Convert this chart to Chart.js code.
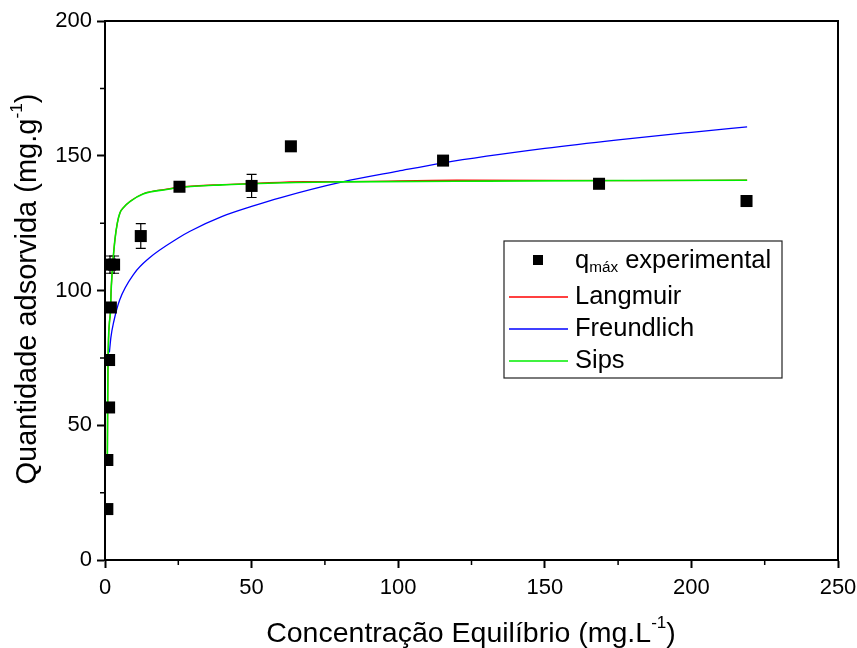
<!DOCTYPE html>
<html>
<head>
<meta charset="utf-8">
<script src="https://cdn.jsdelivr.net/npm/chart.js@4/dist/chart.umd.min.js"></script>
<style>
  html, body { margin: 0; padding: 0; background: #fff; }
</style>
</head>
<body>
<canvas id="isoChart" width="857" height="648"></canvas>
<script>
// --------------------
// Data
// --------------------
const expC   = [0.8, 0.8, 1.4, 1.4, 2.0, 1.7, 3.1, 12.2, 25.4, 50.0, 63.4, 115.3, 168.5, 218.8];
const expQ   = [18.9, 37.1, 56.6, 74.2, 93.7, 109.6, 109.6, 120.2, 138.5, 138.8, 153.5, 148.2, 139.6, 133.2];
const expErr = [0, 0, 0, 0, 0, 3.2, 3.2, 4.6, 0, 4.3, 0, 0, 0, 0];

const langC = [0.8, 0.9, 1.0, 1.2, 1.5, 1.9, 2.05, 2.4, 2.8, 3.4, 4.2, 5.1, 6.5, 8.5, 13, 21, 26, 40, 50, 68, 80, 120, 180, 219];
const langQ = [38, 55, 70, 82, 88, 93, 99, 106, 112, 119, 125, 128.8, 131, 133, 135.9, 137.6, 138.4, 139.3, 139.7, 140.4, 140.4, 140.9, 140.8, 140.9];

const freuC = [1.5, 2, 3, 5, 10, 15, 25, 29, 40, 50, 60, 81, 100, 115, 150, 175, 200, 219];
const freuQ = [77, 82.5, 88.5, 96.5, 106.4, 112, 119.5, 122, 127.5, 131.2, 134.5, 140.3, 144.3, 147.3, 152.7, 155.9, 158.7, 160.7];

const sipsC = [0.8, 0.9, 1.0, 1.2, 1.5, 1.9, 2.05, 2.4, 2.8, 3.4, 4.2, 5.1, 6.5, 8.5, 13, 21, 26, 40, 50, 65, 80, 130, 180, 219];
const sipsQ = [38, 55, 70, 82, 88, 93, 99, 106, 112, 119, 125, 128.8, 131, 133, 135.8, 137.5, 138.3, 139.2, 139.6, 140.1, 140.3, 140.6, 140.8, 140.9];

const xTicks = [0, 50, 100, 150, 200, 250];
const yTicks = [0, 50, 100, 150, 200];

const pts = (xs, ys) => xs.map((x, i) => ({ x: x, y: ys[i] }));

const FONT = '"Liberation Sans", Arial, sans-serif';

// draw text pieces with sub/superscripts, starting at x
function drawRich(ctx, parts, x, y, size) {
    parts.forEach(p => {
        const s = p.sup || p.sub ? size * 0.6 : size;
        ctx.font = s + 'px ' + FONT;
        const dy = p.sup ? -size * 0.38 : (p.sub ? size * 0.25 : 0);
        ctx.fillText(p.t, x, y + dy);
        x += ctx.measureText(p.t).width;
    });
}
function richWidth(ctx, parts, size) {
    let w = 0;
    parts.forEach(p => {
        const s = p.sup || p.sub ? size * 0.6 : size;
        ctx.font = s + 'px ' + FONT;
        w += ctx.measureText(p.t).width;
    });
    return w;
}

// --------------------
// Plugin: frame, minor ticks, error bars, titles, legend
// --------------------
const extras = {
    id: 'extras',
    beforeDatasetsDraw(chart) {
        const ctx = chart.ctx, xs = chart.scales.x, ys = chart.scales.y;
        ctx.save();
        ctx.strokeStyle = '#000';
        ctx.lineWidth = 1.2;
        expC.forEach((c, i) => {
            if (!expErr[i]) return;
            const px = xs.getPixelForValue(c);
            const top = ys.getPixelForValue(expQ[i] + expErr[i]);
            const bot = ys.getPixelForValue(expQ[i] - expErr[i]);
            ctx.beginPath();
            ctx.moveTo(px, top); ctx.lineTo(px, bot);
            ctx.moveTo(px - 5, top); ctx.lineTo(px + 5, top);
            ctx.moveTo(px - 5, bot); ctx.lineTo(px + 5, bot);
            ctx.stroke();
        });
        ctx.restore();
    },
    afterDraw(chart) {
        const ctx = chart.ctx, a = chart.chartArea;
        const xs = chart.scales.x, ys = chart.scales.y;
        ctx.save();
        ctx.strokeStyle = '#000';
        // top and right frame
        ctx.lineWidth = 2;
        ctx.beginPath();
        ctx.moveTo(a.left, a.top); ctx.lineTo(a.right, a.top); ctx.lineTo(a.right, a.bottom);
        ctx.stroke();
        // minor ticks
        ctx.lineWidth = 1.5;
        ctx.beginPath();
        for (let v = 25; v < 250; v += 50) {
            const px = xs.getPixelForValue(v);
            ctx.moveTo(px, a.bottom); ctx.lineTo(px, a.bottom + 5);
        }
        for (let v = 25; v < 200; v += 50) {
            const py = ys.getPixelForValue(v);
            ctx.moveTo(a.left, py); ctx.lineTo(a.left - 5, py);
        }
        ctx.stroke();

        // axis titles
        ctx.fillStyle = '#000';
        ctx.textBaseline = 'middle';
        ctx.textAlign = 'left';
        const xt = [{ t: 'Concentração Equilíbrio (mg.L' }, { t: '-1', sup: true }, { t: ')' }];
        const xw = richWidth(ctx, xt, 28.5);
        drawRich(ctx, xt, 471 - xw / 2, 634, 28.5);

        const yt = [{ t: 'Quantidade adsorvida (mg.g' }, { t: '-1', sup: true }, { t: ')' }];
        ctx.save();
        ctx.translate(28, 289);
        ctx.rotate(-Math.PI / 2);
        const yw = richWidth(ctx, yt, 29);
        drawRich(ctx, yt, -yw / 2, 0, 29);
        ctx.restore();

        // legend box
        const lx = 504, ly = 241, lw = 278, lh = 137;
        ctx.lineWidth = 1.2;
        ctx.strokeStyle = '#222';
        ctx.strokeRect(lx, ly, lw, lh);
        const rows = [261, 297, 329, 361];
        const ds = chart.data.datasets;
        const order = [0, 3, 2, 1];   // experimental, Langmuir, Freundlich, Sips
        order.forEach((di, r) => {
            const d = ds[di];
            const y = rows[r];
            if (di === 0) {
                ctx.fillStyle = d.backgroundColor;
                ctx.fillRect(533, y - 6, 10, 10);
            } else {
                ctx.strokeStyle = d.borderColor;
                ctx.lineWidth = 1.5;
                ctx.beginPath();
                ctx.moveTo(509, y); ctx.lineTo(568, y);
                ctx.stroke();
            }
            ctx.fillStyle = '#000';
            if (di === 0) {
                drawRich(ctx, [{ t: 'q' }, { t: 'máx', sub: true }, { t: ' experimental' }], 575, y, 25.5);
            } else {
                ctx.font = '25.5px ' + FONT;
                ctx.fillText(d.label, 575, y);
            }
        });
        ctx.restore();
    }
};

// --------------------
// Chart
// --------------------
const ctx = document.getElementById('isoChart').getContext('2d');
new Chart(ctx, {
    type: 'scatter',
    data: {
        datasets: [
            {
                label: 'qmáx experimental',
                data: pts(expC, expQ),
                pointStyle: 'rect',
                pointRadius: 8.5,
                pointHoverRadius: 8.5,
                backgroundColor: '#000',
                borderColor: '#000',
                borderWidth: 0,
                showLine: false
            },
            {
                label: 'Sips',
                data: pts(sipsC, sipsQ),
                showLine: true,
                borderColor: '#00ee00',
                borderWidth: 1.6,
                pointRadius: 0,
                cubicInterpolationMode: 'monotone'
            },
            {
                label: 'Freundlich',
                data: pts(freuC, freuQ),
                showLine: true,
                borderColor: '#0000ff',
                borderWidth: 1.3,
                pointRadius: 0,
                cubicInterpolationMode: 'monotone'
            },
            {
                label: 'Langmuir',
                data: pts(langC, langQ),
                showLine: true,
                borderColor: '#ff0000',
                borderWidth: 1.3,
                pointRadius: 0,
                cubicInterpolationMode: 'monotone'
            }
        ]
    },
    options: {
        responsive: false,
        animation: false,
        layout: { padding: { top: 21, right: 19, left: 0, bottom: 0 } },
        plugins: { legend: { display: false }, tooltip: { enabled: false } },
        scales: {
            x: {
                type: 'linear',
                min: 0, max: 250,
                afterFit: s => { s.height = 88; s.paddingLeft = 0; s.paddingRight = 0; },
                afterBuildTicks: s => { s.ticks = xTicks.map(v => ({ value: v })); },
                grid: { drawOnChartArea: false, drawTicks: true, tickLength: 8, tickWidth: 2, tickColor: '#000' },
                border: { display: true, color: '#000', width: 2 },
                ticks: { color: '#000', font: { family: FONT, size: 22 }, padding: 7, maxRotation: 0 }
            },
            y: {
                type: 'linear',
                min: 0, max: 200,
                afterFit: s => { s.width = 105; s.paddingTop = 0; s.paddingBottom = 0; },
                afterBuildTicks: s => { s.ticks = yTicks.map(v => ({ value: v })); },
                grid: { drawOnChartArea: false, drawTicks: true, tickLength: 8, tickWidth: 2, tickColor: '#000' },
                border: { display: true, color: '#000', width: 2 },
                ticks: { color: '#000', font: { family: FONT, size: 22 }, padding: 5 }
            }
        }
    },
    plugins: [extras]
});
</script>
</body>
</html>
